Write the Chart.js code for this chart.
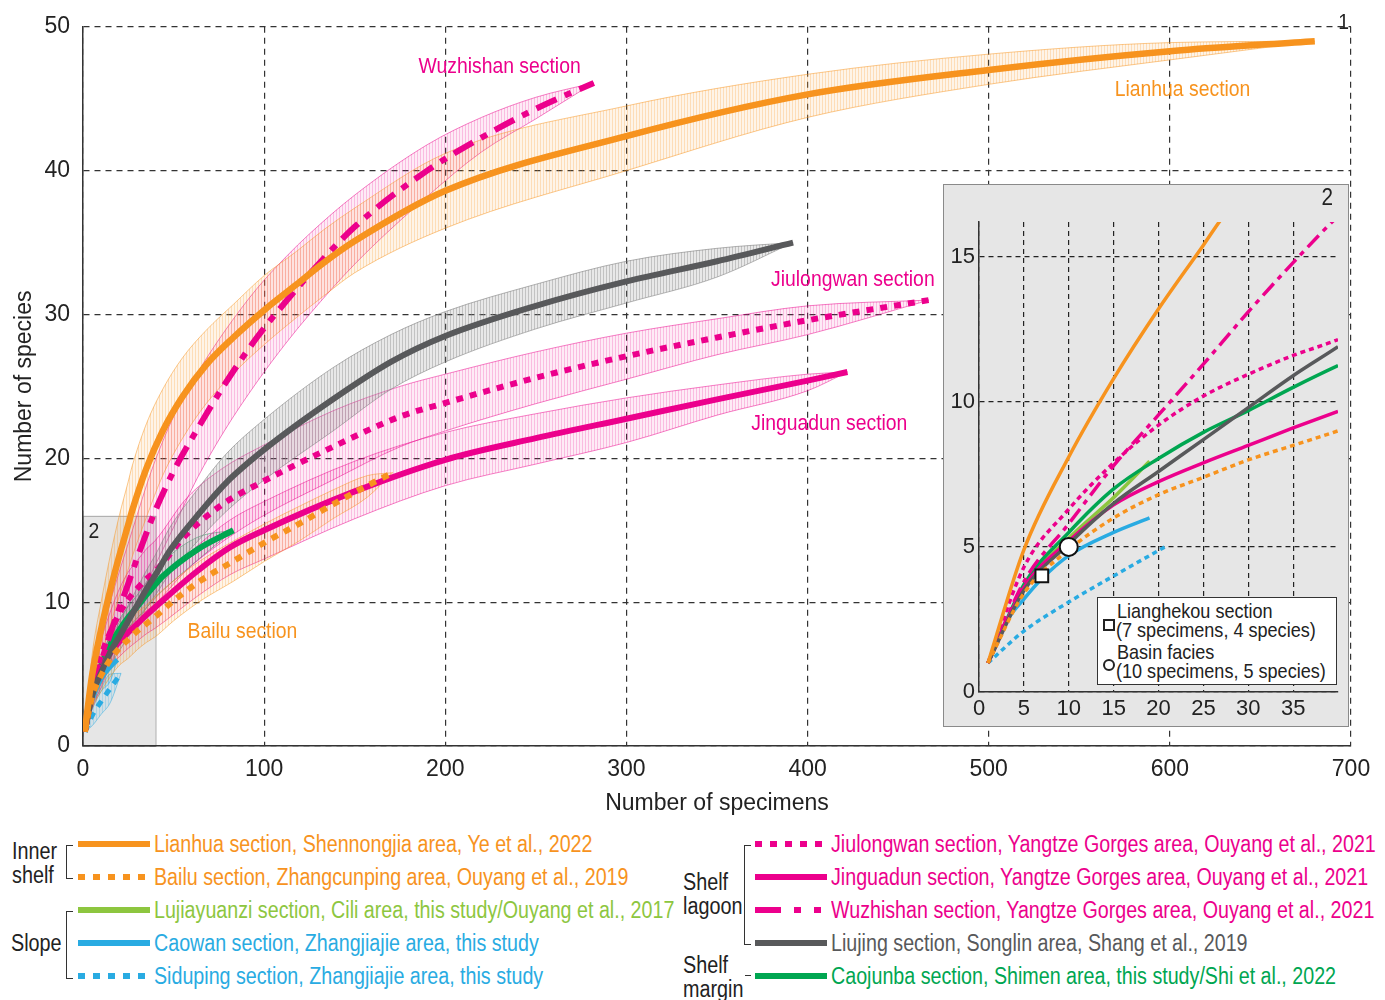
<!DOCTYPE html>
<html>
<head>
<meta charset="utf-8">
<script src="https://cdn.jsdelivr.net/npm/chart.js@4.4.1/dist/chart.umd.min.js"></script>
<style>
  body { margin: 0; background: #fff; width: 1385px; height: 1000px; position: relative; overflow: hidden;
         font-family: "Liberation Sans", Arial, sans-serif; color: #222; }
  .abs { position: absolute; }
  #main { position: absolute; left: 0; top: 0; }
  #insetBox { position: absolute; left: 943px; top: 184px; width: 406px; height: 543px; background: #e6e6e6;
              border: 1px solid #8a8a8a; box-sizing: border-box; }
  #inset { position: absolute; left: 943px; top: 184px; }
  .leg { position: absolute; font-size: 23px; line-height: 26px; white-space: nowrap;
         transform: scaleX(0.855); transform-origin: 0 50%; }
  .grp { position: absolute; font-size: 23px; line-height: 24px; color: #222;
         transform: scaleX(0.86); transform-origin: 0 50%; }
  .brk { position: absolute; border: 1.5px solid #333; border-right: none; width: 6px; }
  #insetLegend { position: absolute; left: 1097px; top: 597px; width: 240px; height: 88px; background: #fff;
                 border: 1.5px solid #333; box-sizing: border-box; }
  #insetLegend div { position: absolute; font-size: 21px; line-height: 20px; white-space: nowrap; color: #222; }
  #insetLegend .t { transform: scaleX(0.86); transform-origin: 0 50%; }
</style>
</head>
<body>
<canvas id="main" width="1385" height="830"></canvas>
<div id="insetBox"></div>
<canvas id="inset" width="406" height="543"></canvas>
<div id="insetLegend">
  <div style="left:5px;top:21px;width:8px;height:8px;border:2px solid #222;background:#fff"></div>
  <div class="t" style="left:19px;top:3px">Lianghekou section</div>
  <div class="t" style="left:18px;top:22px">(7 specimens, 4 species)</div>
  <div style="left:5px;top:61px;width:8px;height:8px;border:2px solid #222;border-radius:50%;background:#fff"></div>
  <div class="t" style="left:19px;top:44px">Basin facies</div>
  <div class="t" style="left:18px;top:63px">(10 specimens, 5 species)</div>
</div>
<div id="legend"></div>

<script>
const FONT = '"Liberation Sans", Arial, sans-serif'
Chart.defaults.font.family = FONT

// rarefaction curves (number of specimens -> number of species), with upper / lower bounds
const lianhuaX  = [1, 5, 10, 15, 20, 25, 27, 35, 44, 55, 68, 83, 100, 118, 133, 150, 200, 300, 400, 500, 600, 680]
const lianhuaY  = [1, 4.9, 8.1, 10.8, 13.2, 15.4, 16.3, 19.3, 21.9, 24.3, 26.5, 28.4, 30.3, 32.1, 33.6, 35.1, 38.6, 42.4, 45.3, 47, 48.3, 49]
const lianhuaLo = [1, 3.5, 6.2, 8.4, 10.4, 12.3, 13.1, 15.9, 18.8, 21.4, 23.8, 25.9, 27.9, 29.8, 31.3, 32.9, 36.0, 40.0, 43.7, 46.0, 47.7, 49]
const lianhuaHi = [1, 6.3, 10.0, 13.2, 16.0, 18.4, 19.4, 22.4, 24.8, 27.0, 28.9, 30.7, 32.7, 34.4, 35.9, 37.4, 41.2, 44.5, 46.7, 48.1, 48.9, 49]

const bailuX  = [1, 5, 10, 15, 20, 25, 30, 35, 40, 50, 65, 83, 101, 120, 138, 157, 171]
const bailuY  = [1, 3.4, 4.9, 6.0, 6.8, 7.4, 8.0, 8.5, 9.0, 10.1, 11.5, 12.85, 14.2, 15.5, 16.8, 18.1, 19]
const bailuLo = [1, 2.6, 3.8, 4.8, 5.6, 6.1, 6.7, 7.2, 7.6, 8.7, 10.1, 11.45, 12.9, 14.3, 15.8, 17.3, 19]
const bailuHi = [1, 4.2, 6.0, 7.2, 8.0, 8.7, 9.3, 9.8, 10.4, 11.5, 12.9, 14.25, 15.5, 16.7, 17.8, 18.8, 19]

const lujiayuanziX  = [1, 5, 10, 15, 19]
const lujiayuanziY  = [1, 3.6, 5.3, 6.7, 7.95]
const lujiayuanziLo = [1, 3.0, 4.5, 5.8, 7.95]
const lujiayuanziHi = [1, 4.2, 6.1, 7.6, 7.95]

const caowanX  = [1, 3, 5, 7, 10, 15, 19]
const caowanY  = [1, 2.4, 3.2, 3.9, 4.7, 5.5, 6.0]
const caowanLo = [1, 1.9, 2.5, 3.1, 3.8, 4.5, 6.0]
const caowanHi = [1, 2.9, 3.9, 4.7, 5.7, 6.4, 6.0]

const sidupingX  = [1, 5, 10, 15, 21]
const sidupingY  = [1, 2.1, 3.1, 4.0, 5.05]
const sidupingLo = [1, 1.4, 2.2, 3.0, 5.05]
const sidupingHi = [1, 2.8, 4.0, 5.0, 5.05]

const jiulongwanX  = [1, 5, 10, 15, 20, 25, 30, 35, 40, 57, 77, 98, 138, 175, 200, 250, 300, 350, 400, 467]
const jiulongwanY  = [1, 4.3, 6.3, 7.9, 9.2, 10.2, 10.95, 11.6, 12.15, 14.7, 16.8, 18.3, 20.8, 22.9, 23.85, 25.6, 27.1, 28.4, 29.6, 31]
const jiulongwanLo = [1, 3.6, 5.2, 6.3, 7.4, 8.2, 8.9, 9.4, 9.9, 12.2, 14.2, 15.9, 18.5, 20.8, 21.9, 23.8, 25.5, 27.2, 28.6, 31]
const jiulongwanHi = [1, 5.0, 7.4, 9.3, 10.9, 12.1, 12.9, 13.7, 14.3, 17.2, 19.3, 20.8, 23.3, 25.0, 25.85, 27.4, 28.7, 29.7, 30.6, 31]

const jinguadunX  = [1, 5, 10, 15, 20, 25, 30, 35, 40, 63, 81, 100, 150, 200, 250, 300, 350, 400, 422]
const jinguadunY  = [1, 3.6, 5.2, 6.45, 7.25, 7.9, 8.5, 9.1, 9.67, 12.15, 13.8, 15.0, 17.7, 19.9, 21.4, 22.75, 24.1, 25.4, 26]
const jinguadunLo = [1, 3.0, 4.4, 5.5, 6.2, 6.8, 7.3, 7.8, 8.2, 10.4, 11.9, 13.0, 15.8, 18.1, 19.6, 21.1, 23.0, 24.7, 26]
const jinguadunHi = [1, 4.2, 6.0, 7.4, 8.3, 9.0, 9.7, 10.4, 11.1, 13.9, 15.7, 17.0, 19.8, 21.8, 23.1, 24.2, 25.1, 25.85, 26]

const wuzhishanX  = [1, 5, 10, 15, 20, 25, 30, 35, 40, 50, 63, 78, 96, 112, 125, 150, 190, 220, 250, 282]
const wuzhishanY  = [1, 3.8, 5.8, 7.8, 9.55, 11.3, 13.1, 14.8, 16.4, 19.1, 22.0, 25.1, 28.4, 30.9, 32.8, 36.1, 40, 42.3, 44.3, 46.1]
const wuzhishanLo = [1, 2.6, 4.1, 5.6, 7.0, 8.5, 10.1, 11.3, 12.6, 15.2, 18.6, 21.9, 25.3, 28.0, 30.0, 33.5, 38.2, 41.3, 43.6, 46.1]
const wuzhishanHi = [1, 5.0, 7.5, 10.0, 12.1, 14.1, 16.1, 18.1, 19.9, 22.9, 25.9, 28.8, 31.8, 34.0, 35.6, 38.3, 41.8, 43.7, 45.1, 46.1]

const liujingX  = [1, 5, 10, 15, 20, 25, 30, 35, 40, 48, 63, 79, 100, 138, 170, 200, 250, 300, 350, 392]
const liujingY  = [1, 3.5, 5.1, 6.5, 7.6, 8.7, 9.8, 10.9, 11.9, 13.6, 16.0, 18.3, 20.6, 24.1, 26.7, 28.5, 30.6, 32.3, 33.7, 35]
const liujingLo = [1, 2.8, 4.3, 5.6, 6.6, 7.6, 8.6, 9.6, 10.5, 12.0, 14.2, 16.3, 18.5, 21.9, 24.8, 26.7, 29.0, 30.8, 32.6, 35]
const liujingHi = [1, 4.2, 5.9, 7.4, 8.6, 9.8, 11.0, 12.2, 13.3, 15.2, 17.8, 20.3, 22.7, 26.3, 28.6, 30.2, 32.1, 33.7, 34.6, 35]

const caojunbaX  = [1, 5, 10, 15, 20, 25, 30, 35, 40, 44, 63, 83]
const caojunbaY  = [1, 3.7, 5.5, 7.0, 8.05, 8.95, 9.7, 10.5, 11.25, 11.8, 13.65, 15]
const caojunbaLo = [1, 3.2, 4.9, 6.3, 7.3, 8.2, 8.9, 9.6, 10.3, 10.8, 12.9, 15]
const caojunbaHi = [1, 4.2, 6.1, 7.7, 8.8, 9.7, 10.5, 11.4, 12.2, 12.8, 14.5, 15]

// single-sample points shown in the inset
const markerSpecimens = [7, 10]
const markerSpecies = [4, 5]

// axes
const mainXTicks = [0, 100, 200, 300, 400, 500, 600, 700]
const mainYTicks = [0, 10, 20, 30, 40, 50]
const insetXTicks = [0, 5, 10, 15, 20, 25, 30, 35]
const insetYTicks = [0, 5, 10, 15]
const zoomArea = { x: [0, 40], y: [0, 16] }

const ORANGE = '#F7931E', PINK = '#EC008C', GREY = '#58595B', DGREEN = '#00A651', LGREEN = '#8DC63F', BLUE = '#29ABE2'

const series = [
  { x: lianhuaX, y: lianhuaY, lo: lianhuaLo, hi: lianhuaHi, color: ORANGE, style: 'solid', w: 6.5 },
  { x: bailuX, y: bailuY, lo: bailuLo, hi: bailuHi, color: ORANGE, style: 'dot', w: 6 },
  { x: liujingX, y: liujingY, lo: liujingLo, hi: liujingHi, color: GREY, style: 'solid', w: 6 },
  { x: jiulongwanX, y: jiulongwanY, lo: jiulongwanLo, hi: jiulongwanHi, color: PINK, style: 'dot', w: 6 },
  { x: jinguadunX, y: jinguadunY, lo: jinguadunLo, hi: jinguadunHi, color: PINK, style: 'solid', w: 6 },
  { x: wuzhishanX, y: wuzhishanY, lo: wuzhishanLo, hi: wuzhishanHi, color: PINK, style: 'dashdot', w: 6 },
  { x: caojunbaX, y: caojunbaY, lo: caojunbaLo, hi: caojunbaHi, color: DGREEN, style: 'solid', w: 6 },
  { x: sidupingX, y: sidupingY, lo: sidupingLo, hi: sidupingHi, color: BLUE, style: 'dot', w: 5 },
  { x: caowanX, y: caowanY, lo: caowanLo, hi: caowanHi, color: BLUE, style: 'solid', w: 5 },
  { x: lujiayuanziX, y: lujiayuanziY, lo: lujiayuanziLo, hi: lujiayuanziHi, color: LGREEN, style: 'solid', w: 6 },
]

const mainDash = { solid: [], dot: [7, 7], dashdot: [22, 9, 7, 9] }
const insetDash = { solid: [], dot: [5, 4], dashdot: [16, 6, 5, 6] }

const mainLabels = [
  { text: 'Wuzhishan section', x: 230, y: 47.2, color: PINK },
  { text: 'Lianhua section', x: 607, y: 45.6, color: ORANGE },
  { text: 'Jiulongwan section', x: 425, y: 32.4, color: PINK },
  { text: 'Jinguadun section', x: 412, y: 22.4, color: PINK },
  { text: 'Bailu section', x: 88, y: 7.9, color: ORANGE },
  { text: '2', x: 6, y: 14.9, color: '#222' },
  { text: '1', x: 696, y: 50.3, color: '#222' },
]
const insetLabels = [
  { text: '2', x: 38.8, y: 17.0, color: '#222' },
]

function rgba(hex, a) {
  const n = parseInt(hex.slice(1), 16)
  return `rgba(${n >> 16},${(n >> 8) & 255},${n & 255},${a})`
}

function hatch(hex, aBg, aLine) {
  const c = document.createElement('canvas')
  c.width = 3; c.height = 3
  const g = c.getContext('2d')
  g.fillStyle = rgba(hex, aBg); g.fillRect(0, 0, 3, 3)
  g.fillStyle = rgba(hex, aLine); g.fillRect(0, 0, 1, 3)
  return g.createPattern(c, 'repeat')
}

const pts = (xs, ys) => xs.map((x, i) => ({ x, y: ys[i] }))

const labelPlugin = {
  id: 'labels',
  afterDatasetsDraw(chart, args, opts) {
    const { ctx, scales } = chart
    opts.items.forEach(l => {
      ctx.save()
      ctx.font = `${opts.size}px ${FONT}`
      ctx.textAlign = 'center'
      ctx.textBaseline = 'middle'
      ctx.fillStyle = l.color
      ctx.translate(scales.x.getPixelForValue(l.x), scales.y.getPixelForValue(l.y))
      ctx.scale(opts.squeeze, 1)
      ctx.fillText(l.text, 0, 0)
      ctx.restore()
    })
  }
}

const zoomAreaPlugin = {
  id: 'zoomArea',
  beforeDraw(chart) {
    const { ctx, scales } = chart
    const x0 = scales.x.getPixelForValue(zoomArea.x[0]), x1 = scales.x.getPixelForValue(zoomArea.x[1])
    const y0 = scales.y.getPixelForValue(zoomArea.y[0]), y1 = scales.y.getPixelForValue(zoomArea.y[1])
    ctx.save()
    ctx.fillStyle = '#e6e6e6'
    ctx.fillRect(x0, y1, x1 - x0, y0 - y1)
    ctx.strokeStyle = '#a8a8a8'
    ctx.lineWidth = 1
    ctx.strokeRect(x0 + 0.5, y1 + 0.5, x1 - x0, y0 - y1)
    ctx.restore()
  }
}

// main chart datasets: bands first, then curves
const mainSets = []
series.forEach(s => {
  const grey = s.color === GREY
  const bg = grey ? hatch('#8a8a8a', 0.2, 0.4) : s.color === PINK ? hatch(PINK, 0.08, 0.2) : hatch(s.color, 0.1, 0.24)
  const edge = grey ? 'rgba(130,130,130,0.6)' : rgba(s.color, 0.5)
  const idx = mainSets.length
  mainSets.push({
    data: pts(s.x, s.hi), showLine: true, pointRadius: 0, borderWidth: 1, borderColor: edge, backgroundColor: bg,
    cubicInterpolationMode: 'monotone', fill: idx + 1, order: 5,
  })
  mainSets.push({
    data: pts(s.x, s.lo), showLine: true, pointRadius: 0, borderWidth: 1, borderColor: edge,
    cubicInterpolationMode: 'monotone', fill: false, order: 5,
  })
})
series.forEach(s => {
  mainSets.push({
    data: pts(s.x, s.y), showLine: true, pointRadius: 0, borderWidth: s.w, borderColor: s.color,
    borderDash: mainDash[s.style], borderCapStyle: 'butt', cubicInterpolationMode: 'monotone', fill: false, order: 1,
  })
})

new Chart(document.getElementById('main'), {
  type: 'scatter',
  data: { datasets: mainSets },
  options: {
    responsive: false,
    animation: false,
    layout: { padding: { top: 22, right: 34, left: 0, bottom: 0 } },
    plugins: { legend: { display: false }, tooltip: { enabled: false },
      labels: { items: mainLabels, size: 22, squeeze: 0.88 } },
    scales: {
      x: {
        type: 'linear', min: 0, max: 700,
        afterFit(s) { s.height = 84 },
        afterBuildTicks(s) { s.ticks = mainXTicks.map(v => ({ value: v })) },
        ticks: { font: { size: 23 }, color: '#222', padding: 10 },
        grid: { color: '#333', lineWidth: 1.2, drawTicks: false },
        border: { display: true, color: '#333', width: 1.5, dash: [6, 5] },
        title: { display: true, text: 'Number of specimens', font: { size: 23 }, color: '#222', padding: { top: 0, bottom: 13 } },
      },
      y: {
        type: 'linear', min: 0, max: 50,
        afterFit(s) { s.width = 83 },
        afterBuildTicks(s) { s.ticks = mainYTicks.map(v => ({ value: v })) },
        ticks: { font: { size: 23 }, color: '#222', padding: 13 },
        grid: { color: '#333', lineWidth: 1.2, drawTicks: false },
        border: { display: true, color: '#333', width: 1.5, dash: [6, 5] },
        title: { display: true, text: 'Number of species', font: { size: 23 }, color: '#222', padding: { top: 11, bottom: 0 } },
      },
    },
  },
  plugins: [zoomAreaPlugin, labelPlugin],
})

// inset: first 40 specimens, curves only
const insetSets = series.map(s => ({
  data: pts(s.x, s.y), showLine: true, pointRadius: 0, borderWidth: 3.5, borderColor: s.color,
  borderDash: insetDash[s.style], borderCapStyle: 'butt', cubicInterpolationMode: 'monotone', fill: false, order: 2,
}))
insetSets.push({
  data: [{ x: markerSpecimens[0], y: markerSpecies[0] }], pointStyle: 'rect', pointRadius: 9,
  backgroundColor: '#fff', borderColor: '#111', borderWidth: 2, order: 0,
})
insetSets.push({
  data: [{ x: markerSpecimens[1], y: markerSpecies[1] }], pointStyle: 'circle', pointRadius: 9,
  backgroundColor: '#fff', borderColor: '#111', borderWidth: 2, order: 0,
})

new Chart(document.getElementById('inset'), {
  type: 'scatter',
  data: { datasets: insetSets },
  options: {
    responsive: false,
    animation: false,
    layout: { padding: { top: 38, right: 8, left: 0, bottom: 0 } },
    plugins: { legend: { display: false }, tooltip: { enabled: false },
      labels: { items: insetLabels, size: 23, squeeze: 0.9 } },
    scales: {
      x: {
        type: 'linear', min: 0, max: 40,
        afterFit(s) { s.height = 35 },
        afterBuildTicks(s) { s.ticks = insetXTicks.map(v => ({ value: v })) },
        ticks: { font: { size: 22 }, color: '#222', padding: 4 },
        grid: { color: '#222', lineWidth: 1.2, drawTicks: false },
        border: { display: true, color: '#333', width: 1.5, dash: [5, 4] },
      },
      y: {
        type: 'linear', min: 0, max: 16.2,
        afterFit(s) { s.width = 36 },
        afterBuildTicks(s) { s.ticks = insetYTicks.map(v => ({ value: v })) },
        ticks: { font: { size: 22 }, color: '#222', padding: 4 },
        grid: { color: '#222', lineWidth: 1.2, drawTicks: false },
        border: { display: true, color: '#333', width: 1.5, dash: [5, 4] },
      },
    },
  },
  plugins: [labelPlugin],
})

// legend below the chart
const legendItems = [
  { text: 'Lianhua section, Shennongjia area, Ye et al., 2022', color: ORANGE, style: 'solid', col: 0, row: 0 },
  { text: 'Bailu section, Zhangcunping area, Ouyang et al., 2019', color: ORANGE, style: 'dot', col: 0, row: 1 },
  { text: 'Lujiayuanzi section, Cili area, this study/Ouyang et al., 2017', color: LGREEN, style: 'solid', col: 0, row: 2 },
  { text: 'Caowan section, Zhangjiajie area, this study', color: BLUE, style: 'solid', col: 0, row: 3 },
  { text: 'Siduping section, Zhangjiajie area, this study', color: BLUE, style: 'dot', col: 0, row: 4 },
  { text: 'Jiulongwan section, Yangtze Gorges area, Ouyang et al., 2021', color: PINK, style: 'dot', col: 1, row: 0 },
  { text: 'Jinguadun section, Yangtze Gorges area, Ouyang et al., 2021', color: PINK, style: 'solid', col: 1, row: 1 },
  { text: 'Wuzhishan section, Yangtze Gorges area, Ouyang et al., 2021', color: PINK, style: 'dashdot', col: 1, row: 2 },
  { text: 'Liujing section, Songlin area, Shang et al., 2019', color: GREY, style: 'solid', col: 1, row: 3 },
  { text: 'Caojunba section, Shimen area, this study/Shi et al., 2022', color: DGREEN, style: 'solid', col: 1, row: 4 },
]
const legendDash = { solid: '', dot: '7 8', dashdot: '26 13 7 13 7 20' }
const colSwatch = [78, 755], colText = [154, 831]
const legend = document.getElementById('legend')
let html = ''
legendItems.forEach(it => {
  const cy = 844 + it.row * 33
  html += `<svg class="abs" style="left:${colSwatch[it.col]}px;top:${cy - 4}px" width="72" height="8">` +
    `<line x1="0" y1="4" x2="72" y2="4" stroke="${it.color}" stroke-width="6" stroke-dasharray="${legendDash[it.style]}"/></svg>`
  html += `<div class="leg" style="left:${colText[it.col]}px;top:${cy - 13}px;color:${it.color}">${it.text}</div>`
})
html += '<div class="grp" style="left:12px;top:839px">Inner<br>shelf</div>'
html += '<div class="brk" style="left:66px;top:845px;height:32px"></div>'
html += '<div class="grp" style="left:11px;top:931px">Slope</div>'
html += '<div class="brk" style="left:66px;top:911px;height:66px"></div>'
html += '<div class="grp" style="left:683px;top:870px">Shelf<br>lagoon</div>'
html += '<div class="brk" style="left:744px;top:845px;height:98px"></div>'
html += '<div class="grp" style="left:683px;top:953px">Shelf<br>margin</div>'
html += '<div class="abs" style="left:745px;top:975px;width:6px;border-top:1.5px solid #333"></div>'
legend.innerHTML = html
</script>
</body>
</html>
